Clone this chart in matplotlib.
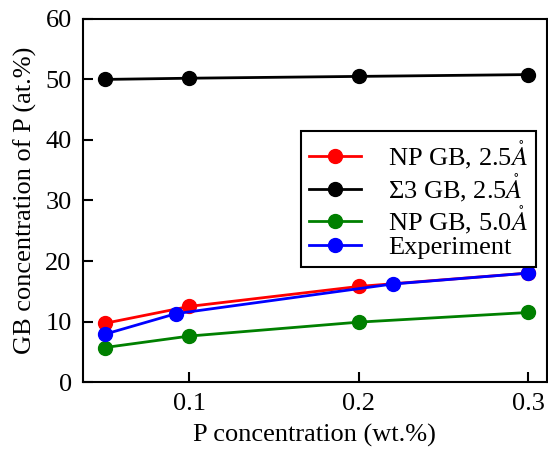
import matplotlib
matplotlib.use("Agg")
import matplotlib.pyplot as plt

# values
x_sim = [0.05, 0.1, 0.2, 0.3]
np_gb_25 = [9.7, 12.5, 15.8, 18.0]
s3_gb_25 = [50.0, 50.2, 50.5, 50.8]
np_gb_50 = [5.7, 7.6, 9.9, 11.5]
x_exp = [0.05, 0.092, 0.22, 0.3]
experiment = [7.9, 11.3, 16.2, 18.0]

plt.rcParams["font.family"] = ["Liberation Serif", "DejaVu Serif"]
plt.rcParams["mathtext.fontset"] = "stix"

fig = plt.figure(figsize=(5.48, 4.5), dpi=100)
ax = fig.add_axes([0.151, 0.151, 0.847, 0.807])

kw = dict(marker="o", markersize=10, linewidth=2)
ax.plot(x_sim, np_gb_25, color="red", label=r"NP GB, 2.5$\mathring{A}$", **kw)
ax.plot(x_sim, s3_gb_25, color="black", label=r"Σ3 GB, 2.5$\mathring{A}$", **kw)
ax.plot(x_sim, np_gb_50, color="green", label=r"NP GB, 5.0$\mathring{A}$", **kw)
ax.plot(x_exp, experiment, color="blue", label="Experiment", **kw)

ax.set_xlim(0.037, 0.311)
ax.set_ylim(0, 60)
ax.set_xticks([0.1, 0.2, 0.3])
ax.set_yticks(range(0, 61, 10))
ax.tick_params(direction="in", length=7, width=1.5, labelsize=19, pad=8)
for sp in ax.spines.values():
    sp.set_linewidth(1.5)

ax.set_xlabel("P concentration (wt.%)", fontsize=19, labelpad=6)
ax.set_ylabel("GB concentration of P (at.%)", fontsize=19, labelpad=6)

leg = ax.legend(loc="upper right", bbox_to_anchor=(0.976, 0.691), fontsize=19,
                fancybox=False, edgecolor="black", framealpha=1,
                handlelength=2.0, labelspacing=0.0, borderpad=0.3,
                handletextpad=1.0, borderaxespad=0)
leg.get_frame().set_linewidth(1.5)

fig.savefig("out.png", dpi=100)
